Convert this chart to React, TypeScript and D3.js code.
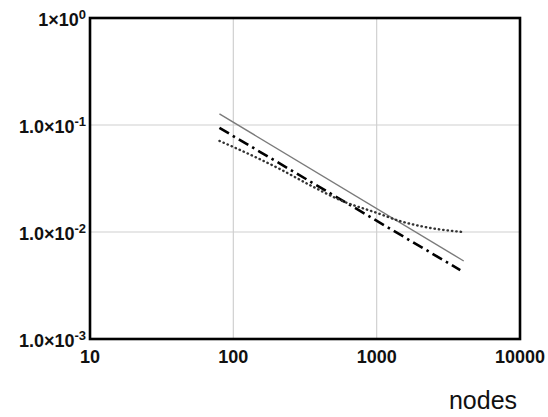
import React from "react";
import * as d3 from "d3";

const xTicks = [10, 100, 1000, 10000];
const xTickLabels = ["10", "100", "1000", "10000"];
const yTicks = [1, 0.1, 0.01, 0.001];
const yTickMantissa = ["1×10", "1.0×10", "1.0×10", "1.0×10"];
const yTickExp = ["0", "-1", "-2", "-3"];

const solidN = [80, 4050];
const solidV = [0.127, 0.00536];
const dashN = [80, 3830];
const dashV = [0.094, 0.0044];
const dotN = [80, 100, 211, 341, 570, 1000, 1442, 2200, 3970];
const dotV = [0.071, 0.0623, 0.0388, 0.0275, 0.0196, 0.0151, 0.0127, 0.0111, 0.01];

const W = 548, H = 417;
const L = 90, R = 520, T = 18, B = 339;

export default function App() {
  const x = d3.scaleLog().domain([10, 10000]).range([L, R]);
  const y = d3.scaleLog().domain([0.001, 1]).range([B, T]);
  const mk = (ns: number[], vs: number[], curve = d3.curveLinear) =>
    d3.line<number>().x((_, i) => x(ns[i])).y((_, i) => y(vs[i])).curve(curve)(ns) || "";
  const font = "'Liberation Sans', Arial, sans-serif";
  return (
    <svg width={W} height={H} style={{ position: "absolute", left: 0, top: 0, background: "#fff" }}>
      <rect x={0} y={0} width={W} height={H} fill="#fff" />
      {xTicks.map((t) => (
        <line key={"gx" + t} x1={x(t)} x2={x(t)} y1={T} y2={B} stroke="#d0d0d0" strokeWidth={1.2} />
      ))}
      {yTicks.map((t) => (
        <line key={"gy" + t} x1={L} x2={R} y1={y(t)} y2={y(t)} stroke="#d0d0d0" strokeWidth={1.2} />
      ))}
      <path d={mk(solidN, solidV)} fill="none" stroke="#7a7a7a" strokeWidth={1.4} />
      <path d={mk(dashN, dashV)} fill="none" stroke="#000" strokeWidth={2.6} strokeDasharray="11,4.5,2.5,4.5" />
      <path d={mk(dotN, dotV, d3.curveMonotoneX)} fill="none" stroke="#333" strokeWidth={2.4} strokeDasharray="0.4,4" strokeLinecap="round" />
      <rect x={L} y={T} width={R - L} height={B - T} fill="none" stroke="#000" strokeWidth={2.6} />
      {xTicks.map((t, i) => (
        <text key={"tx" + t} x={x(t)} y={B + 24} textAnchor="middle" fontFamily={font} fontWeight="bold" fontSize={18} fill="#111">
          {xTickLabels[i]}
        </text>
      ))}
      {yTicks.map((t, i) => (
        <text key={"ty" + t} x={L - 4} y={y(t) + 8} textAnchor="end" fontFamily={font} fontWeight="bold" fontSize={18} fill="#111">
          {yTickMantissa[i]}
          <tspan fontSize={13} dy={-7}>{yTickExp[i]}</tspan>
        </text>
      ))}
      <text x={483} y={409} textAnchor="middle" fontFamily={font} fontSize={25} fill="#111">nodes</text>
    </svg>
  );
}
